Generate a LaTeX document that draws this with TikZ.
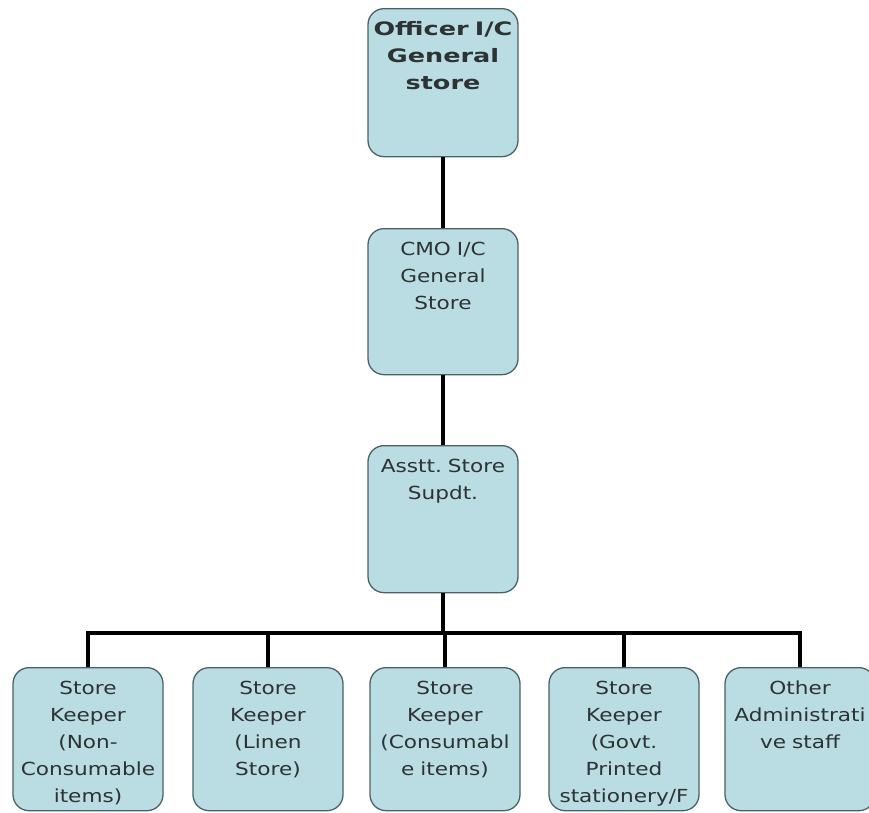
\documentclass[tikz,border=0pt]{standalone}
\usepackage{fontspec}
\setmainfont[FakeStretch=1.2, BoldFeatures={FakeStretch=1.38}]{DejaVu Sans}
\definecolor{boxfill}{RGB}{186,221,227}
\definecolor{boxline}{RGB}{74,98,102}
\definecolor{boxtext}{RGB}{45,50,52}
\tikzset{
  orgbox/.style={draw=boxline, line width=1.3pt, fill=boxfill, rounded corners=16pt,
    text=boxtext, align=center, text width=146pt, inner xsep=2pt, inner ysep=14pt,
    text height=13pt, text depth=#1, anchor=north,
    font=\fontsize{18}{27}\selectfont},
  orgbox/.default=107pt,
  link/.style={line width=3.5pt, black}
}
\begin{document}
\begin{tikzpicture}[x=1pt,y=-1pt]
    \useasboundingbox (0,0) rectangle (869,812);

    % chain of command
    \node[orgbox, font=\bfseries\fontsize{18.5}{27}\selectfont] (officer) at (443,8) {Officer I/C\\General\\store};
    \node[orgbox=105pt] (cmo) at (443,228) {CMO I/C\\General\\Store};
    \node[orgbox=106pt] (asst) at (443,445) {Asstt.\ Store\\Supdt.};

    \draw[link] (officer) -- (cmo);
    \draw[link] (cmo) -- (asst);

    % store keepers
    \node[orgbox=102pt] (keep1) at (88,667) {Store\\Keeper\\(Non-\\Consumable\\items)};
    \node[orgbox=102pt] (keep2) at (268,667) {Store\\Keeper\\(Linen\\Store)};
    \node[orgbox=102pt] (keep3) at (445,667) {Store\\Keeper\\(Consumabl\\e items)};
    \node[orgbox=102pt] (keep4) at (624,667) {Store\\Keeper\\(Govt.\\Printed\\stationery/F};
    \node[orgbox=102pt] (keep5) at (800,667) {Other\\Administrati\\ve staff};

    \coordinate (bar) at (443,633);
    \draw[link] (asst) -- (bar);
    \draw[link, line join=miter] (keep1.north) |- (bar) -| (keep5.north);
    \foreach \k in {keep2,keep3,keep4}
        \draw[link] (\k.north) -- (\k.north |- bar);

\end{tikzpicture}
\end{document}
